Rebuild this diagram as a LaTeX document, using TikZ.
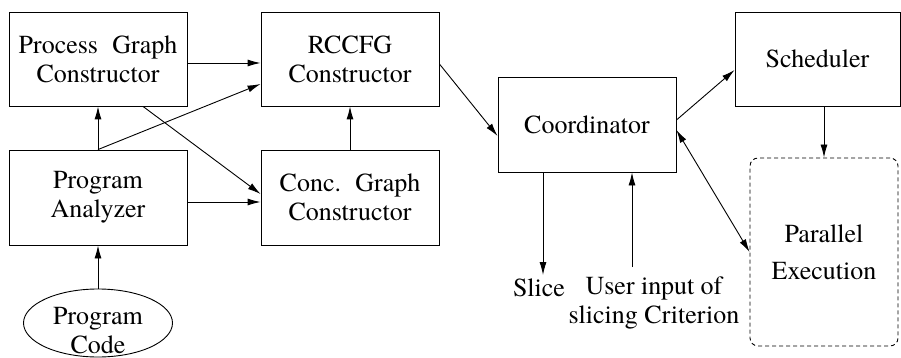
\documentclass[tikz,border=0pt]{standalone}
\usepackage{fontspec}
\newfontfamily\tms{texgyretermes-regular.otf}
\usetikzlibrary{arrows.meta,shapes.geometric}
\begin{document}
\begin{tikzpicture}[x=1pt,y=-1pt,
  every node/.style={font=\tms\fontsize{26}{29}\selectfont, align=center, inner sep=0pt},
  box/.style={draw, line width=0.9pt, minimum width=178pt, minimum height=94pt},
  arr/.style={line width=0.9pt, -{Latex[length=13pt,width=7pt]}},
  darr/.style={line width=0.9pt, {Latex[length=13pt,width=7pt]}-{Latex[length=13pt,width=7pt]}}]
\useasboundingbox (0,0) rectangle (901,358);
\node[box] (pgc) at (98,59) {Process\hspace{0.55em}Graph\\Constructor};
\node[box] (rccfg) at (350,59) {RCCFG\\Constructor};
\node[box, minimum height=95pt] (pa) at (98,197.5) {Program\\Analyzer};
\node[box, minimum height=95pt] (conc) at (350,197.5) {Conc.\hspace{0.55em}Graph\\Constructor};
\node[box, minimum height=95pt] (coord) at (587,124.5) {Coordinator};
\node[box, minimum width=165pt] (sched) at (817.5,59) {Scheduler};
\node[draw, line width=0.9pt, dash pattern=on 4pt off 3pt, rounded corners=8pt,
      minimum width=148pt, minimum height=188pt, font=\tms\fontsize{26}{37}\selectfont] (par) at (824,252) {Parallel\\Execution};
\node[draw, ellipse, line width=0.9pt, minimum width=149pt, minimum height=68pt] (pc) at (98,323) {};
\node (pctext) at (98,331) {Program\\Code};
\node (slice) at (539,288) {Slice};
\node (ui) at (654,302.5) {User input of\\slicing Criterion};
\coordinate (sliceEnd) at (543,275);
\coordinate (uiTop) at (632,267);

\draw[arr] ([yshift=-4pt]pgc.east) -- ([yshift=-4pt]rccfg.west);
\draw[arr] (pa.north) -- ([yshift=-25pt]rccfg.west);
\draw[arr] (pa.north) -- (pgc.south);
\draw[arr] ([xshift=45pt]pgc.south) -- ([yshift=3.5pt]conc.west);
\draw[arr] ([yshift=-4.5pt]pa.east) -- ([yshift=-4.5pt]conc.west);
\draw[arr] (conc.north) -- (rccfg.south);
\draw[arr] ([yshift=-5pt]rccfg.east) -- ([yshift=-11.5pt]coord.west);
\draw[arr] ([yshift=4.5pt]coord.east) -- ([yshift=-11pt]sched.west);
\draw[darr] ([yshift=-5.5pt]coord.east) -- (par.west);
\draw[arr] (sched.south -| par.north) -- (par.north);
\draw[arr] (sliceEnd |- coord.south) -- (sliceEnd);
\draw[arr] (uiTop) -- (uiTop |- coord.south);
\draw[arr] (pc.north) -- (pa.south);
\end{tikzpicture}
\end{document}
